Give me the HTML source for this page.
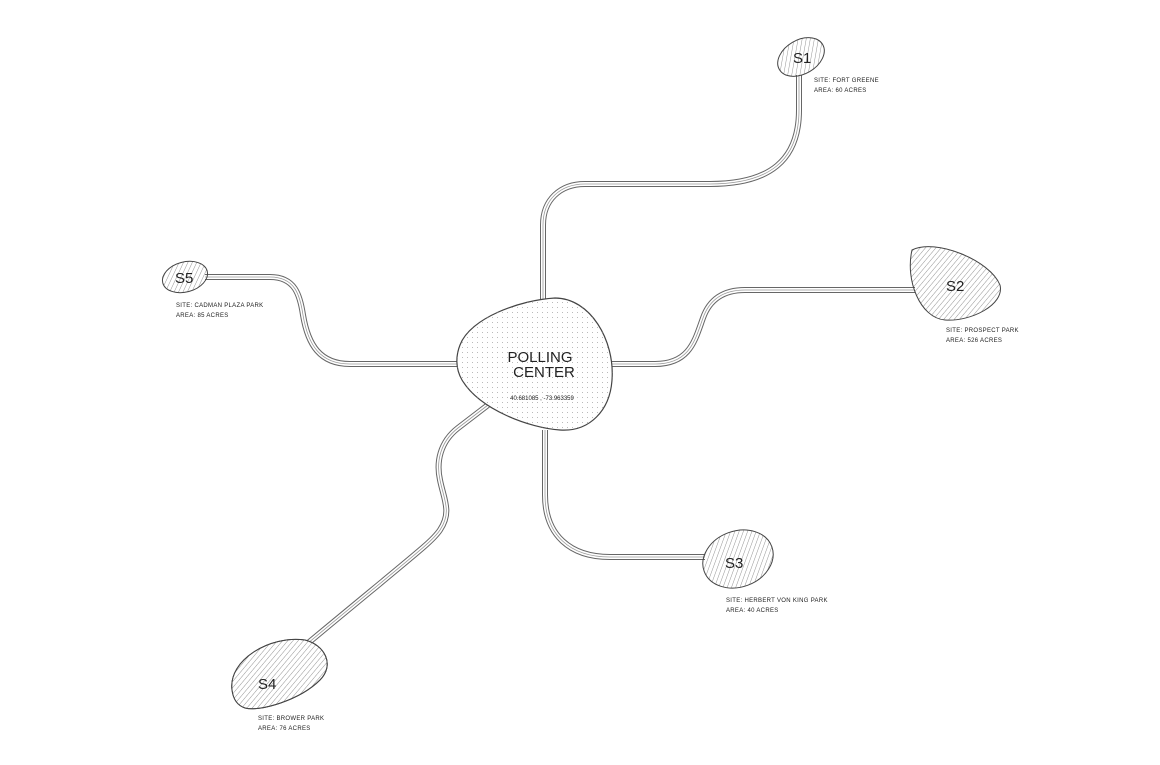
<!DOCTYPE html>
<html><head><meta charset="utf-8"><style>
html,body{margin:0;padding:0;background:#fff;}
svg{display:block;}
text{font-family:"Liberation Sans",sans-serif;fill:#222;}
.lbl{font-size:6px;letter-spacing:0.3px;}
</style></head><body>
<svg width="1160" height="765" viewBox="0 0 1160 765" xmlns="http://www.w3.org/2000/svg">
<defs>
<pattern id="hatch" width="4" height="4" patternUnits="userSpaceOnUse" patternTransform="rotate(40)">
<line x1="0" y1="0" x2="0" y2="4" stroke="#666" stroke-width="0.7"/>
</pattern>
<pattern id="dots" width="5" height="5" patternUnits="userSpaceOnUse">
<circle cx="2.5" cy="2.5" r="0.45" fill="#999"/>
</pattern>
</defs>
<g fill="none" stroke-linecap="butt" stroke-linejoin="round">
<g id="paths">
<path d="M799,75 L799,110 C799,160 770,184 710,184 L585,184 C560,184 543,200 543,225 L543,300"/>
<path d="M612,364 L655,364 C690,364 695,340 703,318 C710,298 725,290 745,290 L915,290"/>
<path d="M545,430 L545,495 C545,535 570,557 610,557 L705,557"/>
<path d="M488,405 L458,428 C440,442 436,462 440,480 C444,500 452,512 440,530 C432,542 420,550 290,658"/>
<path d="M205,277 L270,277 C295,277 300,295 303,315 C308,345 320,364 350,364 L458,364"/>
</g>
</g>
<use href="#paths" stroke="#666" stroke-width="6" fill="none"/>
<use href="#paths" stroke="#fff" stroke-width="4" fill="none"/>
<use href="#paths" stroke="#999" stroke-width="0.8" fill="none"/>

<path d="M460,345 C470,318 520,300 555,298 C590,298 615,340 612,380 C610,410 590,432 560,430 C530,428 480,410 462,380 C455,368 456,355 460,345Z" fill="#fff" stroke="#444" stroke-width="1.2"/>
<path d="M460,345 C470,318 520,300 555,298 C590,298 615,340 612,380 C610,410 590,432 560,430 C530,428 480,410 462,380 C455,368 456,355 460,345Z" fill="url(#dots)"/>
<text x="540" y="362" font-size="15" text-anchor="middle">POLLING</text>
<text x="544" y="377" font-size="15" text-anchor="middle">CENTER</text>
<text x="542" y="400" font-size="6" text-anchor="middle">40.681085 , -73.963359</text>

<g stroke="#444" stroke-width="1" fill="url(#hatch)">
<ellipse cx="801" cy="57" rx="25" ry="17" transform="rotate(-30 801 57)"/>
<path d="M912,250 C935,238 990,260 1000,285 C1005,305 970,322 945,320 C920,318 905,280 912,250Z"/>
<ellipse cx="738" cy="559" rx="36" ry="28" transform="rotate(-20 738 559)"/>
<path d="M232,690 C228,660 270,635 305,640 C325,645 335,665 320,680 C300,700 260,712 245,708 C236,705 233,698 232,690Z" fill="#fff"/>
<path d="M232,690 C228,660 270,635 305,640 C325,645 335,665 320,680 C300,700 260,712 245,708 C236,705 233,698 232,690Z"/>
<ellipse cx="185" cy="277" rx="23" ry="15" transform="rotate(-15 185 277)"/>
</g>
<g font-size="15">
<text x="793" y="63">S1</text>
<text x="946" y="291">S2</text>
<text x="725" y="568">S3</text>
<text x="258" y="689">S4</text>
<text x="175" y="283">S5</text>
</g>
<g class="lbl">
<text x="814" y="82">SITE: FORT GREENE</text>
<text x="814" y="92">AREA: 60 ACRES</text>
<text x="946" y="332">SITE: PROSPECT PARK</text>
<text x="946" y="342">AREA: 526 ACRES</text>
<text x="726" y="602">SITE: HERBERT VON KING PARK</text>
<text x="726" y="612">AREA: 40 ACRES</text>
<text x="258" y="720">SITE: BROWER PARK</text>
<text x="258" y="730">AREA: 76 ACRES</text>
<text x="176" y="307">SITE: CADMAN PLAZA PARK</text>
<text x="176" y="317">AREA: 85 ACRES</text>
</g>
</svg>
</body></html>
